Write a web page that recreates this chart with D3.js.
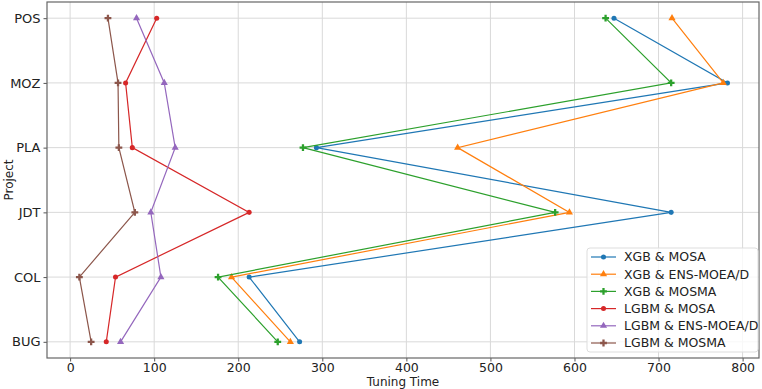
<!DOCTYPE html>
<html>
<head>
<meta charset="utf-8">
<script src="https://cdn.jsdelivr.net/npm/d3@7"></script>
<style>
  body { margin: 0; background: #fff; }
  text { font-family: 'DejaVu Sans', sans-serif; }
</style>
</head>
<body>
<div id="svg-container"></div>
<script>
// Data
const projects = ['BUG', 'COL', 'JDT', 'PLA', 'MOZ', 'POS']
const xTicks = [0, 100, 200, 300, 400, 500, 600, 700, 800]

const seriesNames = [
  'XGB & MOSA',
  'XGB & ENS-MOEA/D',
  'XGB & MOSMA',
  'LGBM & MOSA',
  'LGBM & ENS-MOEA/D',
  'LGBM & MOSMA',
]
// values in order BUG, COL, JDT, PLA, MOZ, POS
const xgbMosa = [273, 213, 715, 293, 782, 647]
const xgbEns = [262, 192, 594, 461, 777, 716]
const xgbMosma = [247, 176, 577, 277, 715, 637]
const lgbmMosa = [43, 54, 213, 74, 66, 103]
const lgbmEns = [60, 108, 96, 125, 112, 79]
const lgbmMosma = [25, 11, 77, 58, 57, 45]

const seriesColors = ['#1f77b4', '#ff7f0e', '#2ca02c', '#d62728', '#9467bd', '#8c564b']
const seriesShapes = ['circle', 'triangle', 'plus', 'circle', 'triangle', 'plus']
const allValues = [xgbMosa, xgbEns, xgbMosma, lgbmMosa, lgbmEns, lgbmMosma]

// Size & Margins
var svgWidth = 762,
  svgHeight = 389,
  margin = { top: 2, right: 3, bottom: 31, left: 47 }
var width = svgWidth - margin.left - margin.right,
  height = svgHeight - margin.top - margin.bottom

var svg = d3
  .select('#svg-container')
  .append('svg')
  .attr('width', svgWidth)
  .attr('height', svgHeight)

var g = svg
  .append('g')
  .attr('transform', 'translate(' + margin.left + ',' + margin.top + ')')

// Scales
var xScale = d3.scaleLinear().domain([-27.5, 819.5]).range([0, width])
var yScale = d3.scaleLinear().domain([-0.25, 5.25]).range([height, 0])

// Grid
g.append('g')
  .selectAll('line')
  .data(xTicks)
  .join('line')
  .attr('x1', d => xScale(d))
  .attr('x2', d => xScale(d))
  .attr('y1', 0)
  .attr('y2', height)
  .attr('stroke', '#d9d9d9')
  .attr('stroke-width', 1)

g.append('g')
  .selectAll('line')
  .data(projects)
  .join('line')
  .attr('x1', 0)
  .attr('x2', width)
  .attr('y1', (d, i) => yScale(i))
  .attr('y2', (d, i) => yScale(i))
  .attr('stroke', '#d9d9d9')
  .attr('stroke-width', 1)

// Axes
var xAxis = d3.axisBottom(xScale).tickValues(xTicks).tickSize(3.5).tickPadding(2)
var svgXAxis = g
  .append('g')
  .attr('transform', 'translate(0,' + height + ')')
  .call(xAxis)
svgXAxis.select('.domain').remove()
svgXAxis.selectAll('line').attr('stroke', '#555')
svgXAxis.selectAll('text').attr('font-size', 12.5).attr('fill', '#222')

var yAxis = d3
  .axisLeft(yScale)
  .tickValues(d3.range(projects.length))
  .tickFormat(i => projects[i])
  .tickSize(3.5)
  .tickPadding(3)
var svgYAxis = g.append('g').call(yAxis)
svgYAxis.select('.domain').remove()
svgYAxis.selectAll('line').attr('stroke', '#555')
svgYAxis.selectAll('text').attr('font-size', 13).attr('fill', '#222')

// frame
g.append('rect')
  .attr('width', width)
  .attr('height', height)
  .attr('fill', 'none')
  .attr('stroke', '#666')
  .attr('stroke-width', 1.2)

g.append('text')
  .attr('x', width / 2)
  .attr('y', height + 28)
  .attr('text-anchor', 'middle')
  .attr('font-size', 12)
  .attr('fill', '#222')
  .text('Tuning Time')

g.append('text')
  .attr('transform', `translate(${-34}, ${height / 2}) rotate(-90)`)
  .attr('text-anchor', 'middle')
  .attr('font-size', 12)
  .attr('fill', '#222')
  .text('Project')

// Markers
function markerPath(shape) {
  if (shape === 'circle') return d3.symbol(d3.symbolCircle, 20)()
  if (shape === 'triangle') return d3.symbol(d3.symbolTriangle, 22)()
  return d3.symbol(d3.symbolCross, 26)()
}

// Lines
var linegen = d3
  .line()
  .x(d => xScale(d))
  .y((d, i) => yScale(i))

allValues.forEach((vals, s) => {
  var sg = g.append('g')
  sg.append('path')
    .datum(vals)
    .attr('fill', 'none')
    .attr('stroke', seriesColors[s])
    .attr('stroke-width', 1.2)
    .attr('d', linegen)
  sg.selectAll('path.m')
    .data(vals)
    .join('path')
    .attr('class', 'm')
    .attr('transform', (d, i) => `translate(${xScale(d)},${yScale(i)})`)
    .attr('d', markerPath(seriesShapes[s]))
    .attr('fill', seriesColors[s])
})

// Legend
var lg = svg.append('g').attr('transform', 'translate(587,248)')
lg.append('rect')
  .attr('width', 171)
  .attr('height', 104)
  .attr('rx', 3)
  .attr('fill', 'rgba(255,255,255,0.8)')
  .attr('stroke', '#ddd')

seriesNames.forEach((name, s) => {
  var row = lg.append('g').attr('transform', `translate(0,${9 + s * 17.2})`)
  row.append('line')
    .attr('x1', 4)
    .attr('x2', 29)
    .attr('stroke', seriesColors[s])
    .attr('stroke-width', 1.2)
  row.append('path')
    .attr('transform', 'translate(16.5,0)')
    .attr('d', markerPath(seriesShapes[s]))
    .attr('fill', seriesColors[s])
  row.append('text')
    .attr('x', 37)
    .attr('dy', '0.35em')
    .attr('font-size', 12.5)
    .attr('fill', '#222')
    .text(name)
})
</script>
</body>
</html>
